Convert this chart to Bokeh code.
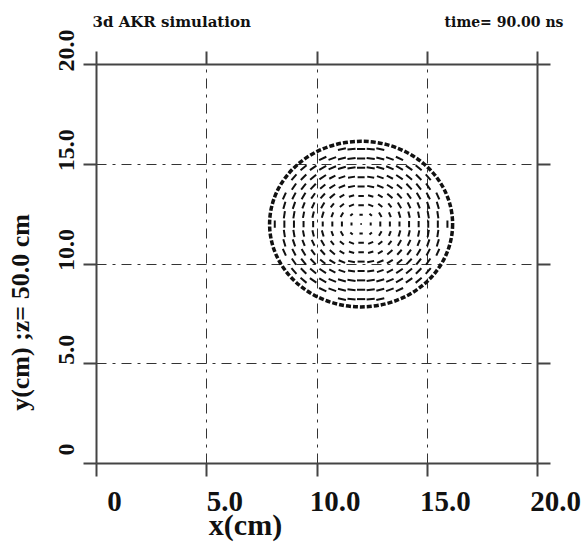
import numpy as np
from bokeh.plotting import figure
from bokeh.models import (Range1d, LinearAxis, FixedTicker, Grid, Label, LabelSet,
                          ColumnDataSource)
from bokeh.embed import file_html
from bokeh.resources import INLINE

# --- axes -----------------------------------------------------------------
x_ticks = [0, 5, 10, 15, 20]
x_tick_labels = ["0", "5.0", "10.0", "15.0", "20.0"]
y_ticks = [0, 5, 10, 15, 20]
y_tick_labels = ["0", "5.0", "10.0", "15.0", "20.0"]
grid_lines = [5, 10, 15]
box = (0, 20)

title_text = "3d AKR simulation"
time_text = "time= 90.00 ns"
x_title = "x(cm)"
y_title = "y(cm) ;z= 50.0 cm"

# --- waveguide wall (cm) ----------------------------------------------------
wall_x = [12.0]
wall_y = [12.0]
wall_radius = 4.15

# --- transverse field on the simulation mesh -------------------------------
mesh_dx = 0.435          # cm between arrows along x
mesh_dy = 0.47           # cm between arrows along y
vortex_x = 12.0
vortex_y = 12.0
band_edges = [0.8, 1.8, 2.8]            # radial bands around the vortex (cm)
band_lengths = [0.15, 0.25, 0.32, 0.37]  # arrow length in each band (cm)

ink = "#111111"
axis_ink = "#444444"
serif = "Liberation Serif"

# page layout (pixels): the plotting box sits inside a canvas-wide frame
W, H = 582, 547
box_left, box_right, box_top, box_bottom = 96, 537, 64, 463
sx = (box_right - box_left) / (box[1] - box[0])
sy = (box_bottom - box_top) / (box[1] - box[0])
x_range = Range1d(box[0] - box_left / sx, box[1] + (W - box_right) / sx)
y_range = Range1d(box[0] - (H - box_bottom) / sy, box[1] + box_top / sy)

p = figure(width=W, height=H, x_range=x_range, y_range=y_range,
           output_backend="svg", toolbar_location=None,
           x_axis_location=None, y_axis_location=None, min_border=0)
p.outline_line_color = None
p.background_fill_color = "white"
p.border_fill_color = "white"
p.grid.visible = False

# frame lines: four axes pinned to the box edges, ticks pointing outwards
for side, loc, ticks in (("below", box[0], x_ticks), ("above", box[1], x_ticks),
                         ("left", box[0], y_ticks), ("right", box[1], y_ticks)):
    ax = LinearAxis(fixed_location=loc, ticker=FixedTicker(ticks=ticks), bounds=box)
    ax.major_label_text_color = None
    ax.major_tick_in = 0
    ax.major_tick_out = 13
    ax.minor_tick_line_color = None
    ax.axis_line_color = axis_ink
    ax.axis_line_width = 2
    ax.major_tick_line_color = axis_ink
    ax.major_tick_line_width = 2
    p.add_layout(ax, side)

for dim in (0, 1):
    p.add_layout(Grid(dimension=dim, ticker=FixedTicker(ticks=grid_lines), bounds=box,
                      cross_bounds=box,
                      grid_line_color="#333333", grid_line_width=1,
                      grid_line_dash="10 6 3 6"))

# field arrows on the mesh inside the wall
nx = int(wall_radius / mesh_dx) + 1
ny = int(wall_radius / mesh_dy) + 1
gx = vortex_x + mesh_dx * np.arange(-nx, nx + 1)
gy = vortex_y + mesh_dy * np.arange(-ny, ny + 1)
X, Y = np.meshgrid(gx, gy)
X = X.ravel()
Y = Y.ravel()
inside = np.hypot(X - wall_x[0], Y - wall_y[0]) < wall_radius - 0.22
X, Y = X[inside], Y[inside]
rx, ry = X - vortex_x, Y - vortex_y
rv = np.hypot(rx, ry)
safe = np.where(rv > 0, rv, 1.0)
tx = np.where(rv > 0, -ry / safe, 1.0)
ty = np.where(rv > 0, rx / safe, 0.0)
L = np.array(band_lengths)[np.digitize(rv, band_edges)]
L = np.where(rv > 0, L, 0.06)
arrows = ColumnDataSource(dict(x0=X - tx * L / 2, y0=Y - ty * L / 2,
                               x1=X + tx * L / 2, y1=Y + ty * L / 2))
p.segment("x0", "y0", "x1", "y1", source=arrows, line_color=ink, line_width=2)

# conducting wall
p.ellipse(x=wall_x, y=wall_y, width=2 * wall_radius, height=2 * wall_radius,
          fill_color=None, line_color=ink, line_width=3.5, line_dash="5 2")

# tick labels, set a little off their ticks
xs = ColumnDataSource(dict(x=x_ticks, y=[box[0]] * len(x_ticks), t=x_tick_labels))
p.add_layout(LabelSet(x="x", y="y", text="t", source=xs, x_offset=18, y_offset=-47,
                      text_align="center", text_baseline="alphabetic",
                      text_font=serif, text_font_style="bold", text_font_size="29px",
                      text_color=ink))
ys = ColumnDataSource(dict(x=[box[0]] * len(y_ticks), y=y_ticks, t=y_tick_labels))
p.add_layout(LabelSet(x="x", y="y", text="t", source=ys, x_offset=-23, y_offset=14,
                      angle=np.pi / 2, text_align="center", text_baseline="alphabetic",
                      text_font=serif, text_font_style="bold", text_font_size="24px",
                      text_color=ink))

# axis titles and headers (screen pixels from the canvas' lower-left corner)
p.add_layout(Label(x=245, y=H - 524, x_units="screen", y_units="screen", text=x_title,
                   text_align="center", text_baseline="alphabetic",
                   text_font=serif, text_font_style="bold", text_font_size="30px",
                   text_color=ink))
p.add_layout(Label(x=20, y=H - 312, x_units="screen", y_units="screen", text=y_title,
                   angle=np.pi / 2, text_align="center", text_baseline="alphabetic",
                   text_font=serif, text_font_style="bold", text_font_size="26px",
                   text_color=ink))
p.add_layout(Label(x=92, y=H - 21, x_units="screen", y_units="screen", text=title_text,
                   text_align="left", text_baseline="alphabetic",
                   text_font="DejaVu Serif", text_font_style="bold", text_font_size="15px",
                   text_color=ink))
p.add_layout(Label(x=563, y=H - 21, x_units="screen", y_units="screen", text=time_text,
                   text_align="right", text_baseline="alphabetic",
                   text_font="DejaVu Serif", text_font_style="bold", text_font_size="14px",
                   text_color=ink))

open("out.html", "w").write(file_html(p, INLINE))
